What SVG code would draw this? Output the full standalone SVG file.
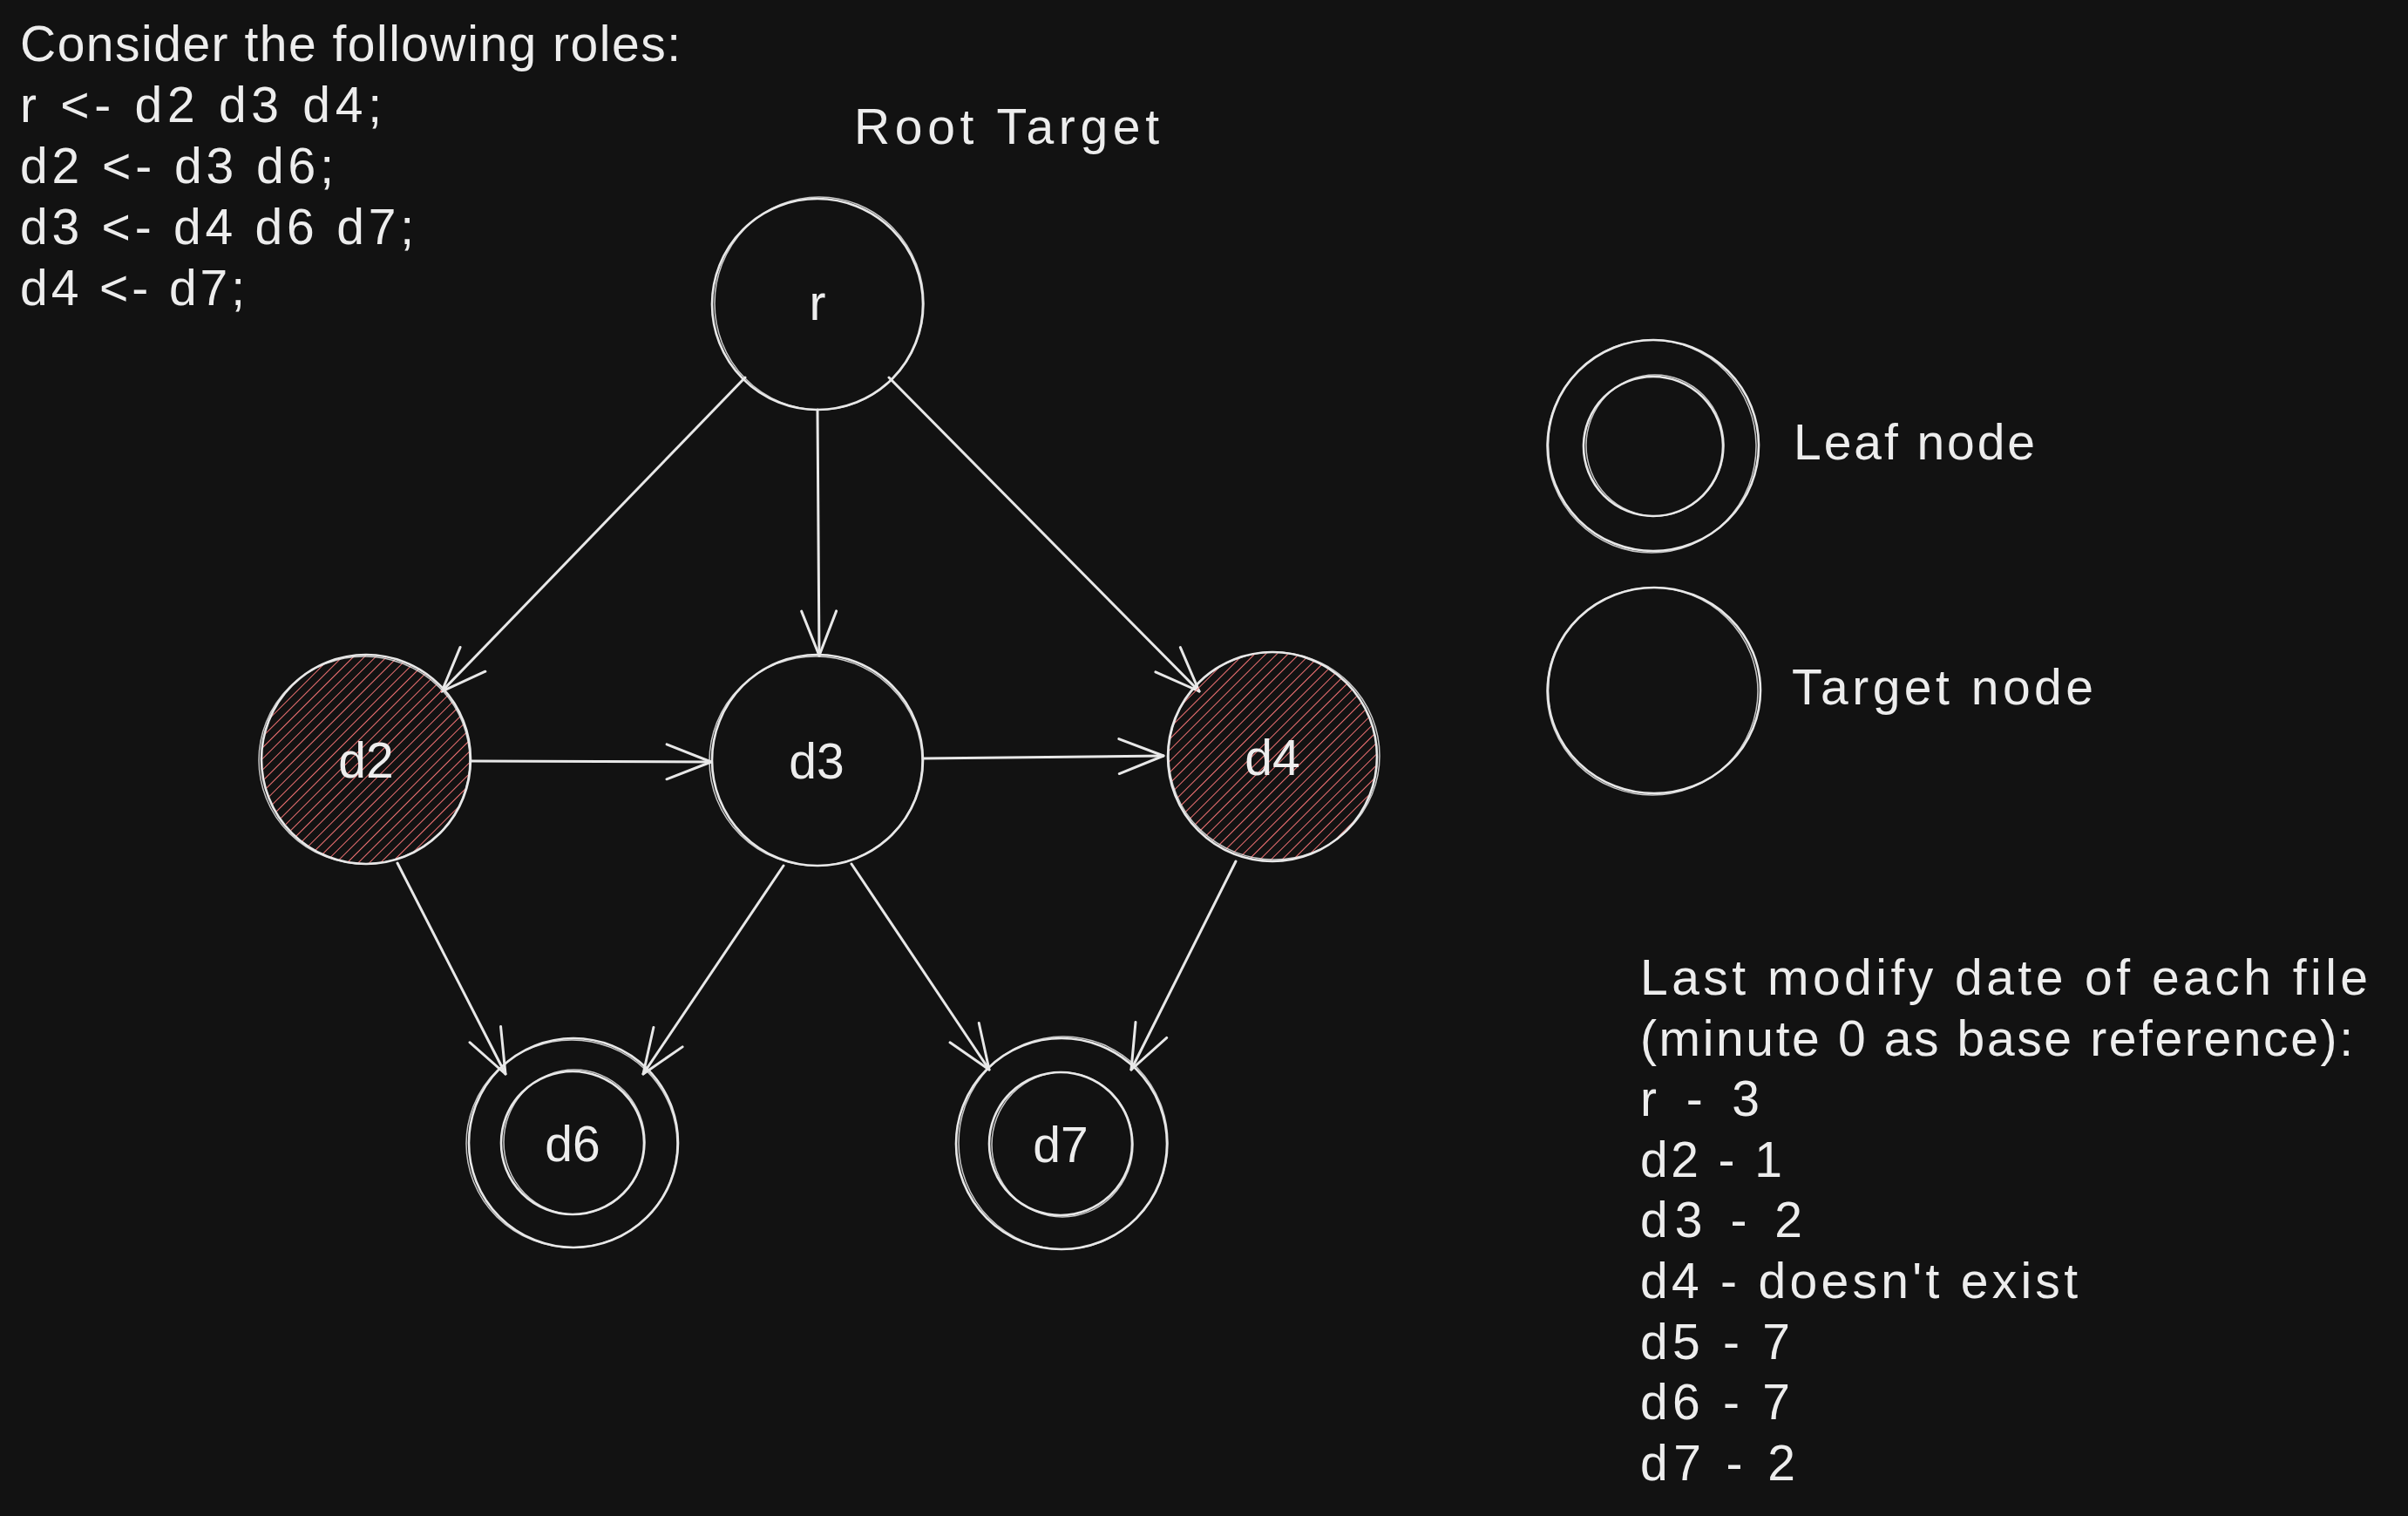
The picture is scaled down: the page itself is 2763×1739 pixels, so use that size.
<svg xmlns="http://www.w3.org/2000/svg" width="2763" height="1739" viewBox="0 0 2763 1739">
<defs>
<style>
.bg{fill:#121212}
.ring{fill:none;stroke:#e8e8e8;stroke-width:2.6}
.ring2{fill:none;stroke:#e8e8e8;stroke-width:1.5;opacity:.85}
.edge{fill:none;stroke:#e8e8e8;stroke-width:3;stroke-linecap:round}
.t{font-family:"Liberation Sans",Arial,sans-serif;font-size:57px;fill:#ededed}
.lbl{font-family:"Liberation Sans",Arial,sans-serif;font-size:57px;fill:#ededed;text-anchor:middle}
</style>
<pattern id="hatch" patternUnits="userSpaceOnUse" width="9" height="9" patternTransform="rotate(45)">
<line x1="0" y1="0" x2="0" y2="9" stroke="#f07273" stroke-width="2"/>
</pattern>
<marker id="ah" viewBox="-60 -30 70 60" refX="0" refY="0" markerWidth="70" markerHeight="60" markerUnits="userSpaceOnUse" orient="auto">
<path d="M -51 -20 L 0 0 L -51 20" fill="none" stroke="#e8e8e8" stroke-width="3" stroke-linecap="round" stroke-linejoin="round"/>
</marker>
</defs>
<rect class="bg" x="0" y="0" width="2763" height="1739"/>

<g id="rules-text">
<text class="t" x="23" y="70" textLength="758">Consider the following roles:</text>
<text class="t" x="23" y="140" textLength="415">r &lt;- d2 d3 d4;</text>
<text class="t" x="23" y="210" textLength="360">d2 &lt;- d3 d6;</text>
<text class="t" x="23" y="280" textLength="452">d3 &lt;- d4 d6 d7;</text>
<text class="t" x="23" y="350" textLength="258">d4 &lt;- d7;</text>
</g>

<g id="root-target-label">
<text class="t" x="980" y="165" textLength="350">Root Target</text>
</g>

<g id="connectors">
<line class="edge" x1="855" y1="433" x2="507" y2="793" marker-end="url(#ah)"/>
<line class="edge" x1="938" y1="470" x2="940" y2="752" marker-end="url(#ah)"/>
<line class="edge" x1="1020" y1="433" x2="1376" y2="793" marker-end="url(#ah)"/>
<line class="edge" x1="540" y1="873" x2="816" y2="874" marker-end="url(#ah)"/>
<line class="edge" x1="1060" y1="870" x2="1335" y2="867" marker-end="url(#ah)"/>
<line class="edge" x1="456" y1="990" x2="580" y2="1232" marker-end="url(#ah)"/>
<line class="edge" x1="899" y1="993" x2="738" y2="1232" marker-end="url(#ah)"/>
<line class="edge" x1="977" y1="991" x2="1135" y2="1227" marker-end="url(#ah)"/>
<line class="edge" x1="1418" y1="988" x2="1298" y2="1227" marker-end="url(#ah)"/>
</g>

<g id="node-r">
<circle class="ring" cx="938" cy="349" r="121"/>
<ellipse class="ring2" cx="940" cy="348" rx="120" ry="122"/>
<text class="lbl" x="938" y="367">r</text>
</g>

<g id="node-d2">
<circle cx="420" cy="871" r="119" fill="url(#hatch)"/>
<circle class="ring" cx="420" cy="871" r="120"/>
<ellipse class="ring2" cx="418" cy="872" rx="121" ry="119"/>
<text class="lbl" x="420" y="892">d2</text>
</g>

<g id="node-d3">
<circle class="ring" cx="938" cy="872" r="121"/>
<ellipse class="ring2" cx="936" cy="873" rx="122" ry="120"/>
<text class="lbl" x="937" y="893">d3</text>
</g>

<g id="node-d4">
<circle cx="1460" cy="868" r="119" fill="url(#hatch)"/>
<circle class="ring" cx="1460" cy="868" r="120"/>
<ellipse class="ring2" cx="1462" cy="867" rx="121" ry="119"/>
<text class="lbl" x="1460" y="889">d4</text>
</g>

<g id="node-d6">
<circle class="ring" cx="658" cy="1311" r="120"/>
<ellipse class="ring2" cx="656" cy="1312" rx="121" ry="119"/>
<circle class="ring" cx="657" cy="1311" r="82"/>
<ellipse class="ring2" cx="659" cy="1310" rx="81" ry="83"/>
<text class="lbl" x="657" y="1332">d6</text>
</g>

<g id="node-d7">
<circle class="ring" cx="1218" cy="1312" r="121"/>
<ellipse class="ring2" cx="1220" cy="1311" rx="120" ry="122"/>
<circle class="ring" cx="1217" cy="1312" r="82"/>
<ellipse class="ring2" cx="1219" cy="1313" rx="81" ry="83"/>
<text class="lbl" x="1217" y="1333">d7</text>
</g>

<g id="legend-leaf">
<ellipse class="ring" cx="1897" cy="511" rx="121" ry="121"/>
<ellipse class="ring2" cx="1895" cy="512" rx="120" ry="122"/>
<circle class="ring" cx="1897" cy="512" r="80"/>
<ellipse class="ring2" cx="1899" cy="511" rx="79" ry="81"/>
<text class="t" x="2058" y="527" textLength="277">Leaf node</text>
</g>

<g id="legend-target">
<ellipse class="ring" cx="1898" cy="792" rx="122" ry="118"/>
<ellipse class="ring2" cx="1896" cy="793" rx="121" ry="119"/>
<text class="t" x="2056" y="808" textLength="346">Target node</text>
</g>

<g id="modify-dates">
<text class="t" x="1882" y="1141" textLength="835">Last modify date of each file</text>
<text class="t" x="1882" y="1211" textLength="818">(minute 0 as base reference):</text>
<text class="t" x="1882" y="1280" textLength="137">r - 3</text>
<text class="t" x="1882" y="1350" textLength="163">d2 - 1</text>
<text class="t" x="1882" y="1419" textLength="186">d3 - 2</text>
<text class="t" x="1882" y="1489" textLength="502">d4 - doesn't exist</text>
<text class="t" x="1882" y="1559" textLength="172">d5 - 7</text>
<text class="t" x="1882" y="1628" textLength="172">d6 - 7</text>
<text class="t" x="1882" y="1698" textLength="178">d7 - 2</text>
</g>
</svg>
